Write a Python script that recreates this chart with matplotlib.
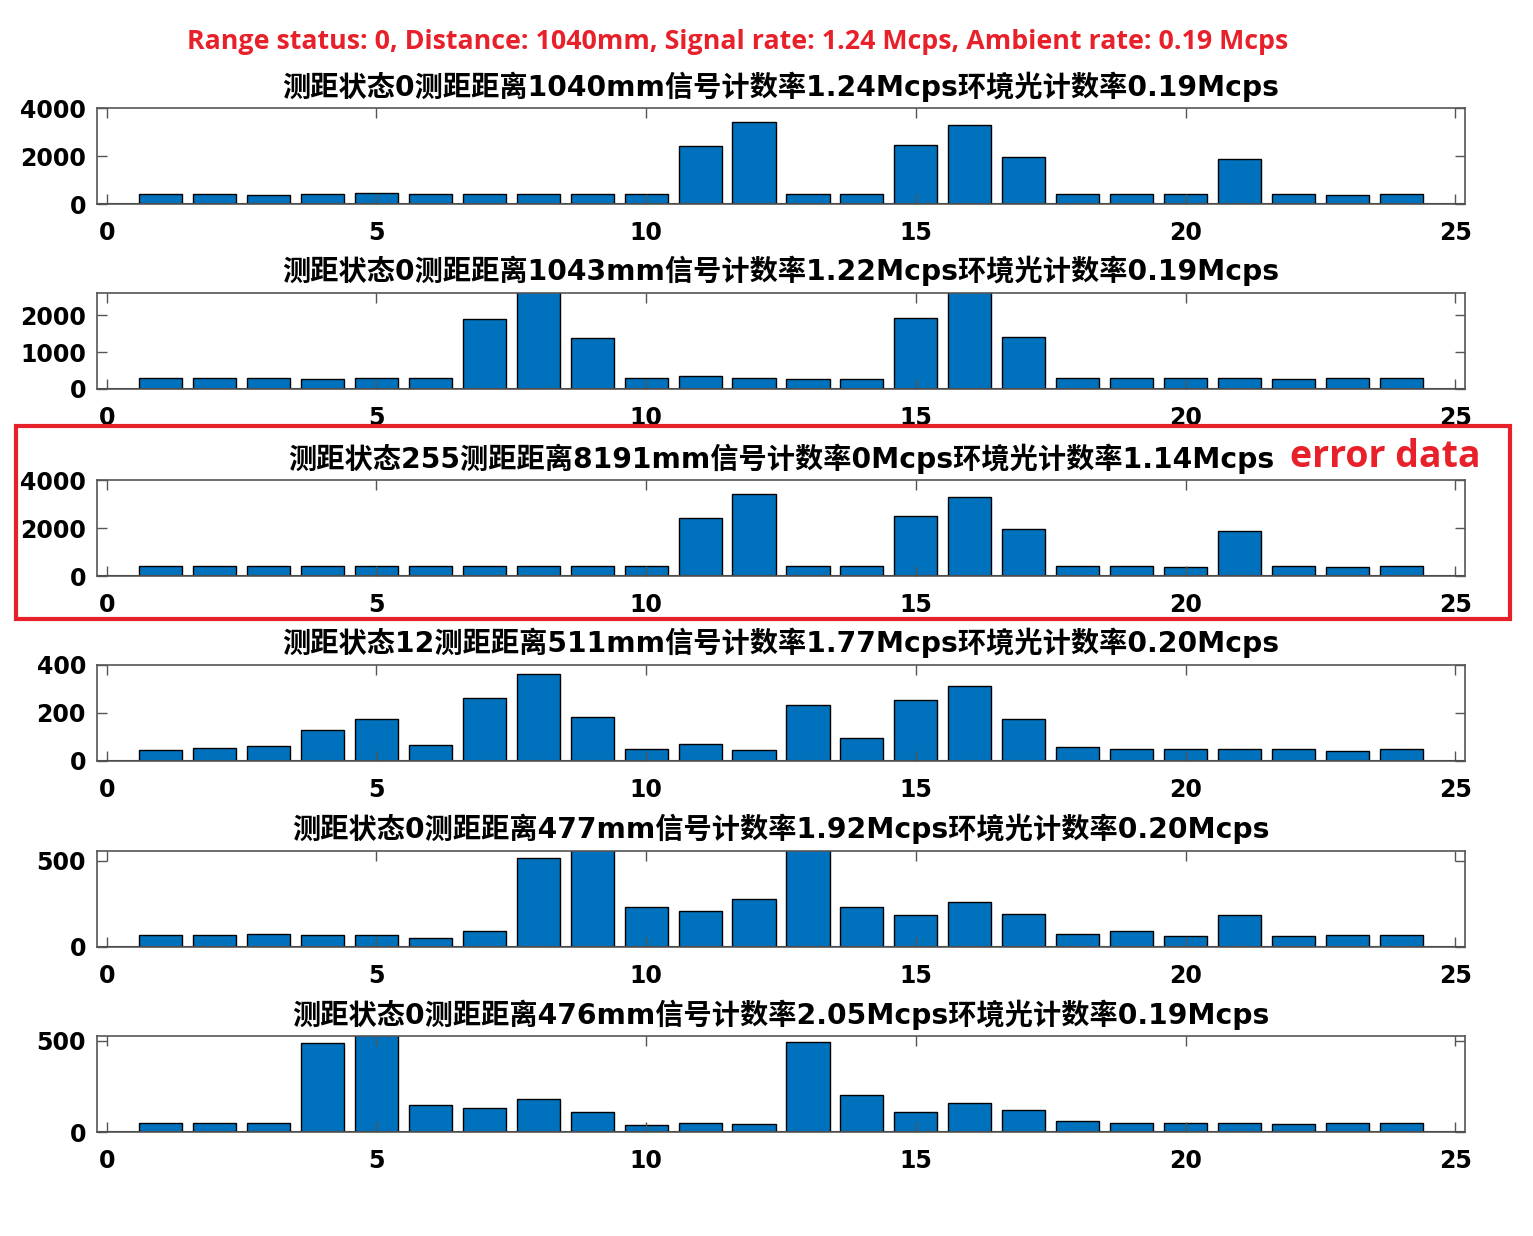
import matplotlib
matplotlib.use("Agg")
import matplotlib.pyplot as plt
from matplotlib.patches import Rectangle

plt.rcParams['font.family'] = ['DejaVu Sans', 'Noto Sans CJK SC']

# histogram bins 1..24
bins = list(range(1, 25))

titles = [
    "测距状态0测距距离1040mm信号计数率1.24Mcps环境光计数率0.19Mcps",
    "测距状态0测距距离1043mm信号计数率1.22Mcps环境光计数率0.19Mcps",
    "测距状态255测距距离8191mm信号计数率0Mcps环境光计数率1.14Mcps",
    "测距状态12测距距离511mm信号计数率1.77Mcps环境光计数率0.20Mcps",
    "测距状态0测距距离477mm信号计数率1.92Mcps环境光计数率0.20Mcps",
    "测距状态0测距距离476mm信号计数率2.05Mcps环境光计数率0.19Mcps",
]

counts_1 = [430, 430, 370, 420, 440, 400, 420, 420, 420, 420, 2430, 3420,
            430, 430, 2470, 3280, 1950, 400, 430, 410, 1870, 430, 370, 410]
counts_2 = [290, 300, 300, 260, 305, 305, 1900, 2700, 1390, 305, 350, 305,
            270, 260, 1910, 2700, 1420, 290, 305, 290, 305, 260, 305, 300]
counts_3 = [430, 420, 410, 410, 430, 410, 430, 420, 420, 420, 2430, 3410,
            420, 420, 2480, 3290, 1950, 410, 410, 380, 1860, 410, 380, 410]
counts_4 = [47, 54, 61, 128, 177, 65, 263, 363, 183, 52, 69, 44,
            234, 97, 255, 313, 177, 57, 48, 48, 52, 50, 40, 50]
counts_5 = [68, 68, 76, 68, 72, 51, 93, 512, 580, 230, 208, 280,
            580, 230, 185, 261, 191, 74, 93, 62, 183, 62, 70, 70]
counts_6 = [51, 51, 49, 485, 560, 148, 130, 179, 111, 41, 49, 44,
            490, 205, 111, 159, 119, 60, 51, 49, 49, 46, 49, 49]
all_counts = [counts_1, counts_2, counts_3, counts_4, counts_5, counts_6]

y_limits = [4000, 2600, 4000, 400, 555, 525]
y_ticks = [[0, 2000, 4000], [0, 1000, 2000], [0, 2000, 4000],
           [0, 200, 400], [0, 500], [0, 500]]

# axes tops in pixels (figure is 1533x1236)
panel_tops = [108, 293, 480, 665, 851, 1036]

W, H = 1533, 1236
fig = plt.figure(figsize=(W / 100, H / 100), dpi=100)

for i in range(6):
    top = panel_tops[i]
    ax = fig.add_axes([97 / W, 1 - (top + 96) / H, 1368 / W, 96 / H])
    ax.bar(bins, all_counts[i], width=0.8, color='#0072BD',
           edgecolor='black', linewidth=1.0)
    ax.axhline(0, color='#262626', lw=1.5)
    ax.set_xlim(-0.18, 25.18)
    ax.set_ylim(0, y_limits[i])
    ax.set_xticks([0, 5, 10, 15, 20, 25])
    ax.set_yticks(y_ticks[i])
    ax.tick_params(direction='in', top=True, right=True, length=7,
                   width=1, color='#555555', labelsize=17)
    ax.tick_params(axis='x', pad=12)
    ax.tick_params(axis='y', pad=8)
    for lab in ax.get_xticklabels() + ax.get_yticklabels():
        lab.set_fontweight('bold')
    for sp in ax.spines.values():
        sp.set_color('#555555')
        sp.set_linewidth(1.2)
    ax.set_title(titles[i], fontsize=20.3, fontweight='bold', pad=9)

# annotation on top
fig.text(738 / W, 1 - 42 / H,
         "Range status: 0, Distance: 1040mm, Signal rate: 1.24 Mcps, Ambient rate: 0.19 Mcps",
         color='#e8202a', fontsize=19.3, fontweight='bold', family='Open Sans',
         ha='center', va='center')

# red box around the erroneous frame
fig.patches.append(Rectangle((16 / W, 1 - 619 / H), 1494 / W, 193 / H,
                             transform=fig.transFigure, fill=False,
                             edgecolor='#e8202a', linewidth=3))
fig.text(1385 / W, 1 - 457 / H, "error data", color='#e8202a',
         fontsize=27, fontweight='bold', family='Open Sans',
         ha='center', va='center')

fig.savefig("out.png", dpi=100)
